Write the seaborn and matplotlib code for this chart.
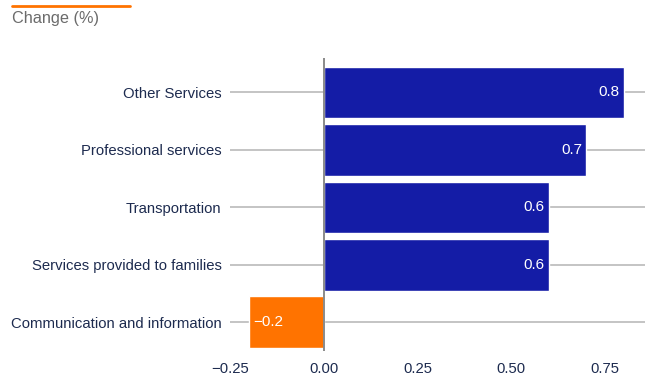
import matplotlib
matplotlib.use("Agg")
import matplotlib.pyplot as plt
import seaborn as sns
import pandas as pd

categories = ["Other Services", "Professional services", "Transportation",
              "Services provided to families", "Communication and information"]
values = [0.8, 0.7, 0.6, 0.6, -0.2]
labels = ["0.8", "0.7", "0.6", "0.6", "\u22120.2"]
xticks = [-0.25, 0.0, 0.25, 0.5, 0.75]
xticklabels = ["\u22120.25", "0.00", "0.25", "0.50", "0.75"]
title = "Change (%)"

BLUE = "#141ca6"
ORANGE = "#ff7300"
TEXT = "#1d2b4f"

sns.set_theme(style="white")
plt.rcParams['font.family'] = ['Liberation Sans', 'DejaVu Sans']

df = pd.DataFrame({"category": categories, "value": values,
                   "sign": ["pos" if v >= 0 else "neg" for v in values]})

fig = plt.figure(figsize=(6.48, 3.76), dpi=100)
ax = fig.add_axes([230/648, 1-351/376, (645-230)/648, (351-58)/376])

for i in range(len(categories)):
    ax.axhline(i, color="#c4c4c4", lw=1.4, zorder=0)

sns.barplot(data=df, y="category", x="value", hue="sign",
            palette={"pos": BLUE, "neg": ORANGE}, dodge=False,
            width=0.9, legend=False, ax=ax, zorder=2, saturation=1)

ax.axvline(0, color="#8a8a8a", lw=1.4, zorder=3)

for i, (v, lab) in enumerate(zip(values, labels)):
    if v >= 0:
        ax.text(v - 0.012, i, lab, color="white", ha="right", va="center", fontsize=11, zorder=4)
    else:
        ax.text(v + 0.012, i, lab, color="white", ha="left", va="center", fontsize=11, zorder=4)

ax.set_xlim(-0.25, 0.856)
ax.set_ylim(4.5, -0.6)
ax.set_xticks(xticks)
ax.set_xticklabels(xticklabels)
ax.set_xlabel("")
ax.set_ylabel("")
ax.tick_params(axis="both", length=0, labelsize=10.7, colors=TEXT)
ax.tick_params(axis="y", pad=6)
ax.tick_params(axis="x", pad=8)
for s in ax.spines.values():
    s.set_visible(False)

fig.text(12/648, 1-19/376, title, color="#6b6b6b", fontsize=11.7, ha="left", va="center")
fig.add_artist(plt.Line2D([12/648, 130/648], [1-6/376, 1-6/376], color=ORANGE, lw=2))

fig.savefig("out.png", dpi=100)
